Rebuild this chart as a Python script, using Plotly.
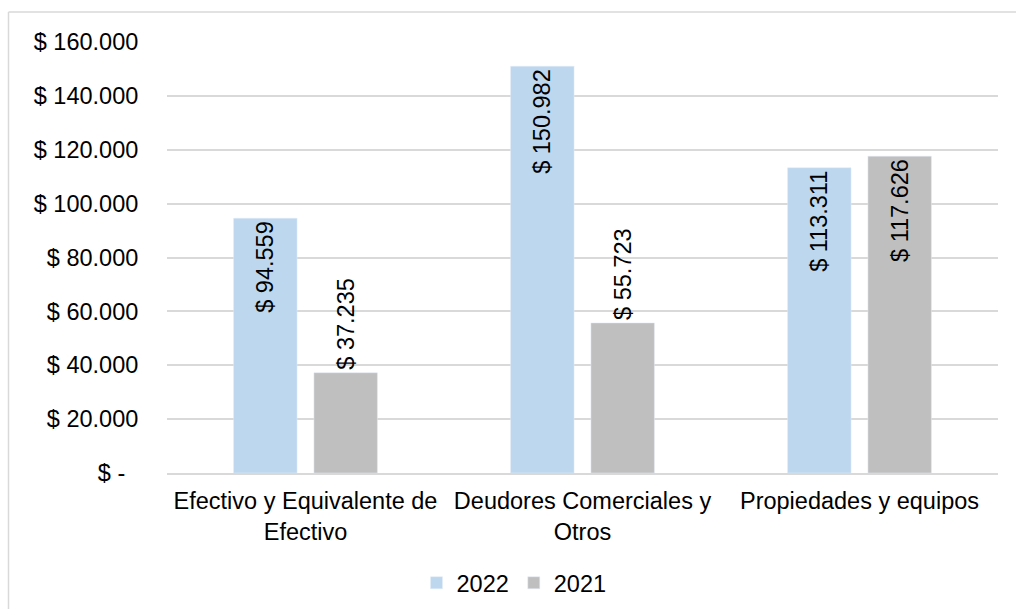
import plotly.graph_objects as go

categories = ["Efectivo y Equivalente de<br>Efectivo", "Deudores Comerciales y<br>Otros", "Propiedades y equipos"]
series_names = ["2022", "2021"]
values_2022 = [94559, 150982, 113311]
values_2021 = [37235, 55723, 117626]
label_2022 = ["$ 94.559", "$ 150.982", "$ 113.311"]
label_2021 = ["$ 37.235", "$ 55.723", "$ 117.626"]
tick_vals = [0, 20000, 40000, 60000, 80000, 100000, 120000, 140000, 160000]
tick_text = ["$ -\u00a0\u00a0", "$ 20.000", "$ 40.000", "$ 60.000", "$ 80.000",
             "$ 100.000", "$ 120.000", "$ 140.000", "$ 160.000"]

FONT = "Liberation Sans, Arial, sans-serif"
FS = 23.5

fig = go.Figure()
fig.add_trace(go.Bar(
    name=series_names[0], x=categories, y=values_2022, marker_color="#BDD7EE",
    text=label_2022, textposition="inside", insidetextanchor="end", textangle=-90,
    textfont=dict(family=FONT, size=FS, color="black"), constraintext="none",
    hoverinfo="skip"))
fig.add_trace(go.Bar(
    name=series_names[1], x=categories, y=values_2021, marker_color="#BFBFBF",
    text=label_2021, textposition=["outside", "outside", "inside"], insidetextanchor="end",
    textangle=-90, textfont=dict(family=FONT, size=FS, color="black"), constraintext="none",
    cliponaxis=False, hoverinfo="skip"))

L, R, T, B = 167, 18, 42, 136
W, H = 1016, 609
pw, ph = W - L - R, H - T - B

def px_x(p):
    return (p - L) / pw

def px_y(p):
    return (H - B - p) / ph

fig.update_layout(
    width=W, height=H, margin=dict(l=L, r=R, t=T, b=B, autoexpand=False),
    paper_bgcolor="white", plot_bgcolor="white",
    barmode="group", bargap=0.42, bargroupgap=0.21,
    font=dict(family=FONT, size=FS, color="black"),
    showlegend=True,
    legend=dict(orientation="h", x=px_x(514), y=px_y(583), xanchor="center", yanchor="middle",
                font=dict(family=FONT, size=FS, color="black"), itemwidth=30,
                traceorder="normal", bgcolor="rgba(0,0,0,0)"),
    xaxis=dict(showgrid=False, showline=True, linecolor="#D9D9D9", linewidth=1.5,
               ticks="outside", ticklen=6, tickcolor="rgba(0,0,0,0)", automargin=False,
               tickfont=dict(family=FONT, size=FS, color="black")),
    yaxis=dict(range=[0, 160000], tickvals=tick_vals, ticktext=tick_text,
               showgrid=True, gridcolor="#D9D9D9", gridwidth=1.5, zeroline=False,
               showline=False, ticks="outside", ticklen=23, tickcolor="rgba(0,0,0,0)",
               automargin=False, tickfont=dict(family=FONT, size=FS, color="black")),
    shapes=[
        dict(type="line", xref="paper", yref="paper", x0=px_x(8.5), x1=px_x(8.5),
             y0=px_y(12), y1=px_y(620), line=dict(color="#D9D9D9", width=1.5)),
        dict(type="line", xref="paper", yref="paper", x0=px_x(8.5), x1=px_x(1030),
             y0=px_y(12), y1=px_y(12), line=dict(color="#D9D9D9", width=1.5)),
    ],
)

fig.write_html("out.html", config={"displayModeBar": False},
               post_script="document.body.style.margin='0';document.body.style.overflow='hidden';")
